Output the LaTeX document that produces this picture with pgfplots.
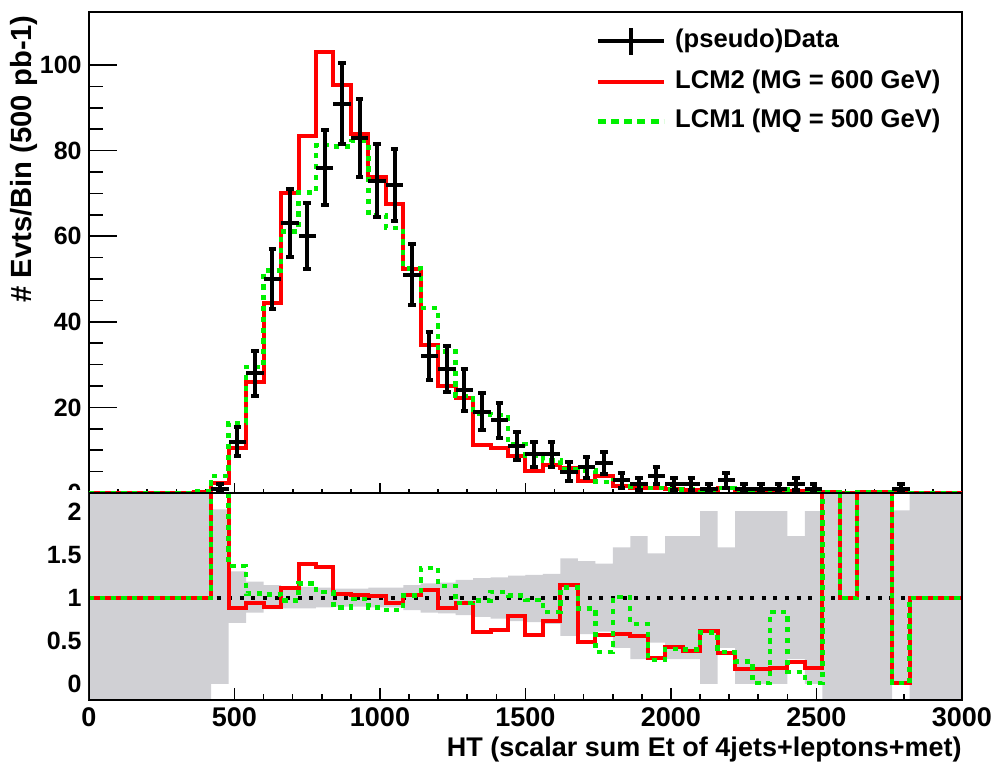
\documentclass[border=0pt]{standalone}
\usepackage{fontspec}
\setmainfont{Liberation Sans}
\usepackage{pgfplots}
\pgfplotsset{compat=1.18}
\usepackage{pgfplotstable}

\definecolor{histred}{RGB}{255,0,0}
\definecolor{histgreen}{RGB}{0,240,0}
\definecolor{bandgrey}{RGB}{208,208,212}

% Histograms per 60 GeV bin (left edge), ratios to data,
% relative data error band: lower edge lo and band width w
\pgfplotstableread{
x     red    green  rr    gr    lo    w
0     0      0      1     1     -1    4
60    0      0      1     1     -1    4
120   0      0      1     1     -1    4
180   0      0      1     1     -1    4
240   0      0      1     1     -1    4
300   0      0      1     1     -1    4
360   0.2    0.5    1     1     -1    4
420   2.4    4.0    3     3     0.0   2.03
480   10.4   16.4   0.88  1.37  0.71  0.60
540   26.0   29.4   0.94  1.05  0.83  0.36
600   44.5   52.0   0.90  1.04  0.87  0.28
660   70.0   61.1   1.12  0.97  0.88  0.25
720   83.5   70.2   1.40  1.17  0.88  0.25
780   103.0  81.3   1.36  1.07  0.89  0.23
840   95.3   81.0   1.05  0.89  0.90  0.21
900   84.0   82.2   1.03  0.99  0.90  0.21
960   73.8   65.0   1.02  0.89  0.89  0.23
1020  67.5   61.9   0.94  0.86  0.89  0.23
1080  52.3   52.5   1.03  1.03  0.86  0.29
1140  34.5   43.2   1.09  1.35  0.83  0.34
1200  25.0   33.1   0.88  1.14  0.82  0.36
1260  22.3   22.6   0.94  0.94  0.80  0.41
1320  11.2   18.4   0.60  0.97  0.78  0.45
1380  10.5   18.2   0.63  1.07  0.76  0.48
1440  8.7    11.3   0.79  1.03  0.73  0.53
1500  5.1    8.8    0.57  0.98  0.72  0.55
1560  6.6    7.6    0.73  0.84  0.70  0.58
1620  5.75   5.6    1.15  1.12  0.56  0.90
1680  2.9    5.3    0.49  0.88  0.58  0.85
1740  4.0    2.6    0.57  0.37  0.61  0.79
1800  1.74   3.0    0.58  1.01  0.42  1.17
1860  1.1    1.4    0.56  0.70  0.29  1.43
1920  1.2    1.1    0.30  0.28  0.48  1.04
1980  0.86   0.8    0.43  0.41  0.29  1.43
2040  0.76   0.8    0.38  0.40  0.29  1.43
2100  0.62   0.6    0.62  0.60  0.0   2.01
2160  1.08   1.1    0.36  0.37  0.42  1.17
2220  0.17   0.26   0.17  0.26  0.0   2.01
2280  0.17   0.01   0.17  0.01  0.0   2.01
2340  0.19   0.84   0.19  0.84  0.0   2.01
2400  0.5    0.28   0.25  0.14  0.29  1.43
2460  0.19   0.01   0.19  0.01  0.0   2.01
2520  0.3    0.3    3     3     -1    4
2580  0      0      1     1     -1    4
2640  0.2    0.2    3     3     -1    4
2700  0.2    0.2    3     3     -1    4
2760  0.01   0.01   0.01  0.01  0.0   2.02
2820  0      0      1     1     -1    4
2880  0      0      1     1     -1    4
2940  0      0      1     1     -1    4
3000  0      0      1     1     -1    4
}\histos

% Pseudo-data: bin centre, events, half bin width, sqrt(N)
\pgfplotstableread{
x     n   ex  ey
450   1   30  1.00
510   12  30  3.46
570   28  30  5.29
630   50  30  7.07
690   63  30  7.94
750   60  30  7.75
810   76  30  8.72
870   91  30  9.54
930   83  30  9.11
990   73  30  8.54
1050  72  30  8.49
1110  51  30  7.14
1170  32  30  5.66
1230  29  30  5.39
1290  24  30  4.90
1350  19  30  4.36
1410  17  30  4.12
1470  11  30  3.32
1530  9   30  3.00
1590  9   30  3.00
1650  5   30  2.24
1710  6   30  2.45
1770  7   30  2.65
1830  3   30  1.73
1890  2   30  1.41
1950  4   30  2.00
2010  2   30  1.41
2070  2   30  1.41
2130  1   30  1.00
2190  3   30  1.73
2250  1   30  1.00
2310  1   30  1.00
2370  1   30  1.00
2430  2   30  1.41
2490  1   30  1.00
2790  1   30  1.00
}\pseudodata

\pgfplotsset{
  panel/.style={
    scale only axis, width=436.5pt, xmin=0, xmax=3000, anchor=south west,
    axis line style={line width=0.8pt},
    tick style={black, line width=0.8pt},
    tick align=inside, xtick pos=bottom, ytick pos=left,
    /pgf/number format/assume math mode=true,
  },
  tickfont/.style={font=\bfseries\fontsize{12.5}{14}\selectfont},
}

\begin{document}
\begin{tikzpicture}
\useasboundingbox (0pt,0pt) rectangle (496.5pt,385.5pt);

% upper panel: frame, long y ticks and labels
\begin{axis}[panel, at={(44.5pt,139pt)}, height=240.5pt,
  ymin=0, ymax=112.4,
  xtick=\empty,
  ytick={0,20,...,100}, yticklabels={0,20,40,60,80,100},
  minor y tick num=3,
  major tick length=14pt, minor tick length=7pt,
  yticklabel style={tickfont, inner sep=0pt, xshift=-3.5pt},
  ylabel={\# Evts/Bin (500 pb-1)},
  ylabel style={font=\bfseries\fontsize{14.6}{17}\selectfont, inner sep=0pt,
    at={(axis description cs:-0.058,0.994)}, anchor=south east},
]
\addplot[draw=none] coordinates {(0,0) (3000,0)};
\end{axis}

% upper panel: histograms and pseudo-data
\begin{axis}[panel, at={(44.5pt,139pt)}, height=240.5pt,
  ymin=0, ymax=112.4,
  ytick=\empty,
  xtick={0,500,...,3000}, xticklabels={},
  minor x tick num=4,
  major tick length=5pt, minor tick length=2.2pt,
  legend style={at={(axis description cs:0.5796,0.972)}, anchor=north west,
    draw=none, fill=none, font=\bfseries\fontsize{12.8}{15}\selectfont,
    row sep=5.3pt, inner sep=0pt,
    nodes={inner sep=1pt, text height=9.5pt, text depth=3pt}},
  legend cell align=left,
]
\addlegendimage{legend image code/.code={
  \draw[black, line width=2pt] (0pt,0pt) -- (33pt,0pt);
  \draw[black, line width=2pt] (16.5pt,-6.7pt) -- (16.5pt,6.7pt);}}
\addlegendentry{\hspace*{3.5pt}(pseudo)Data}
\addlegendimage{legend image code/.code={
  \draw[histred, line width=2.2pt] (0pt,0pt) -- (33pt,0pt);}}
\addlegendentry{\hspace*{3.5pt}LCM2 (MG = 600 GeV)}
\addlegendimage{legend image code/.code={
  \draw[histgreen, line width=2.4pt, dash pattern=on 4pt off 2.6pt] (0pt,0pt) -- (33pt,0pt);}}
\addlegendentry{\hspace*{3.5pt}LCM1 (MQ = 500 GeV)}

\addplot[histred, line width=2pt, const plot mark left, forget plot] table[x=x, y=red] {\histos};
\addplot[histgreen, line width=2.2pt, dash pattern=on 2.6pt off 2.8pt, const plot mark left, forget plot] table[x=x, y=green] {\histos};

% vertical error bars with end caps
\addplot[draw=none, mark=none, forget plot,
  error bars/.cd, y dir=both, y explicit,
  error bar style={black, line width=2pt},
  error mark options={black, line width=2pt, mark size=1.9pt, rotate=90}]
  table[x=x, y=n, y error=ey] {\pseudodata};
% horizontal bin-width bars
\addplot[draw=none, mark=none, forget plot,
  error bars/.cd, x dir=both, x explicit, error mark=none,
  error bar style={black, line width=2pt}]
  table[x=x, y=n, x error=ex] {\pseudodata};
\end{axis}

% the pad edge cuts the lowest label of the upper panel
\fill[white] (20pt,134pt) rectangle (43.5pt,140.6pt);

% ratio panel
\begin{axis}[panel, at={(44.5pt,35.5pt)}, height=103.5pt,
  ymin=-0.186, ymax=2.221,
  xtick={0,500,...,3000}, xticklabels={0,500,1000,1500,2000,2500,3000},
  minor x tick num=4,
  ytick={0,0.5,1,1.5,2}, yticklabels={0,0.5,1,1.5,2},
  minor y tick num=4,
  major tick length=6pt, minor tick length=3pt,
  xticklabel style={font=\bfseries\fontsize{13.5}{15}\selectfont, inner sep=0pt, yshift=-3.5pt},
  yticklabel style={tickfont, inner sep=0pt, xshift=-3.5pt},
  xlabel={HT (scalar sum Et of 4jets+leptons+met)},
  xlabel style={font=\bfseries\fontsize{13.5}{15}\selectfont, inner sep=0pt,
    at={(axis description cs:1,-0.175)}, anchor=north east},
]
\addplot[draw=none, const plot mark left, stack plots=y] table[x=x, y=lo] {\histos};
\addplot[draw=none, fill=bandgrey, const plot mark left, stack plots=y] table[x=x, y=w] {\histos} \closedcycle;

\addplot[black, line width=2pt, dash pattern=on 2pt off 3.8pt] coordinates {(0,1) (3000,1)};
\addplot[histred, line width=2pt, const plot mark left] table[x=x, y=rr] {\histos};
\addplot[histgreen, line width=2.2pt, dash pattern=on 2.6pt off 2.8pt, const plot mark left] table[x=x, y=gr] {\histos};

\draw[black, line width=0.8pt] (rel axis cs:0,0) rectangle (rel axis cs:1,1);
\end{axis}
\end{tikzpicture}
\end{document}
